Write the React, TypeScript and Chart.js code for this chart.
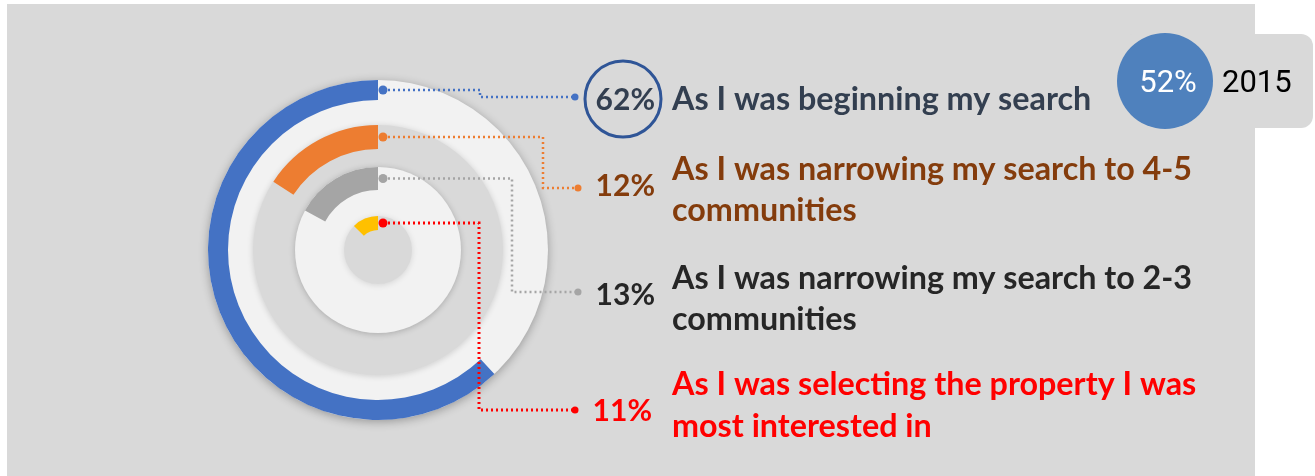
import React, { useEffect, useRef } from "react";
import { Chart, registerables } from "chart.js";

Chart.register(...registerables);

// ---- data ----
const categories = [
  "As I was beginning my search",
  "As I was narrowing my search to 4-5 communities",
  "As I was narrowing my search to 2-3 communities",
  "As I was selecting the property I was most interested in",
];
const labelLines = [
  ["As I was beginning my search"],
  ["As I was narrowing my search to 4-5", "communities"],
  ["As I was narrowing my search to 2-3", "communities"],
  ["As I was selecting the property I was", "most interested in"],
];
const values = [62, 12, 13, 11];
// full-circle scale that each ring's arc was drawn against in the original
const ringScale = [100, 76, 76, 88];
const badgeValue = "52%";
const badgeYear = "2015";

// ---- style ----
const arcColors = ["#4472c4", "#ed7d31", "#a5a5a5", "#ffc000"];
const lineColors = ["#4472c4", "#ed7d31", "#a5a5a5", "#ff0000"];
const textColors = ["#333f50", "#843c0c", "#262626", "#ff0000"];
const arcWeights = [20, 24, 23, 14];
const gapWeights = [25, 18, 26];
const elbowX = [480, 543, 512, 479];
const endX = [575, 578, 578, 575];
const endY = [97, 188, 292, 410];
const pctRight = [655, 655, 655, 652];
const pctBaseline = [110, 196, 305, 421];
const labelX = 672;
const labelBaselines = [[110], [180, 221], [289, 330], [395, 437]];
const PANEL = "#d9d9d9";
const LIGHT = "#f2f2f2";
const LABEL_FONT = "bold 32.3px Lato";
const PCT_FONT = "bold 30px Lato";

const decor = {
  id: "decor",
  beforeDraw(chart: any) {
    const ctx = chart.ctx as CanvasRenderingContext2D;
    ctx.save();
    ctx.fillStyle = "#ffffff";
    ctx.fillRect(0, 0, chart.width, chart.height);
    ctx.fillStyle = PANEL;
    ctx.fillRect(7, 4, 1248, chart.height - 4);
    // badge
    ctx.beginPath();
    (ctx as any).roundRect(1120, 34, 193, 94, 12);
    ctx.fill();
    ctx.fillStyle = "#4f81bd";
    ctx.beginPath();
    ctx.arc(1165, 81, 48, 0, Math.PI * 2);
    ctx.fill();
    ctx.font = "31px Roboto";
    ctx.textBaseline = "alphabetic";
    ctx.textAlign = "center";
    ctx.fillStyle = "#ffffff";
    ctx.fillText(badgeValue, 1168, 92);
    ctx.textAlign = "left";
    ctx.fillStyle = "#000000";
    ctx.fillText(badgeYear, 1222, 92);
    ctx.restore();
  },
  beforeDatasetsDraw(chart: any) {
    const ctx = chart.ctx as CanvasRenderingContext2D;
    const el0 = chart.getDatasetMeta(0).data[1];
    const cx = el0.x, cy = el0.y;
    const radii = [0, 2, 4, 6].map((i) => chart.getDatasetMeta(i).data[1].outerRadius);
    const fills = [LIGHT, PANEL, LIGHT, PANEL];
    const shadows = ["rgba(0,0,0,0.30)", "rgba(0,0,0,0.16)", "rgba(0,0,0,0.22)", "rgba(0,0,0,0.12)"];
    radii.forEach((r: number, k: number) => {
      ctx.save();
      ctx.shadowColor = shadows[k];
      ctx.shadowBlur = k === 0 ? 10 : 6;
      ctx.shadowOffsetY = k === 0 ? 2 : 1;
      ctx.fillStyle = fills[k];
      ctx.beginPath();
      ctx.arc(cx, cy, r, 0, Math.PI * 2);
      ctx.fill();
      ctx.restore();
    });
  },
  afterDatasetsDraw(chart: any) {
    const ctx = chart.ctx as CanvasRenderingContext2D;
    values.forEach((v, i) => {
      const el = chart.getDatasetMeta(i * 2).data[1];
      const midR = (el.outerRadius + el.innerRadius) / 2;
      const sx = el.x + 5;
      const sy = el.y - midR;
      ctx.save();
      ctx.strokeStyle = lineColors[i];
      ctx.lineWidth = i === 3 ? 3 : 2.5;
      ctx.setLineDash([2, 3]);
      ctx.beginPath();
      ctx.moveTo(sx, sy);
      ctx.lineTo(elbowX[i], sy);
      ctx.lineTo(elbowX[i], endY[i]);
      ctx.lineTo(endX[i], endY[i]);
      ctx.stroke();
      ctx.setLineDash([]);
      ctx.fillStyle = lineColors[i];
      ctx.beginPath();
      ctx.arc(sx, sy, 4.5, 0, Math.PI * 2);
      ctx.fill();
      ctx.beginPath();
      ctx.arc(endX[i], endY[i], 3.5, 0, Math.PI * 2);
      ctx.fill();
      // texts
      ctx.textBaseline = "alphabetic";
      ctx.fillStyle = textColors[i];
      ctx.font = PCT_FONT;
      ctx.textAlign = "right";
      ctx.fillText(v + "%", pctRight[i], pctBaseline[i]);
      ctx.font = LABEL_FONT;
      ctx.textAlign = "left";
      labelLines[i].forEach((line, j) => {
        ctx.fillText(line, labelX, labelBaselines[i][j]);
      });
      ctx.restore();
    });
    // circle around the first percentage
    ctx.save();
    ctx.strokeStyle = "#2f5597";
    ctx.lineWidth = 3;
    ctx.beginPath();
    ctx.arc(623, 99, 38, 0, Math.PI * 2);
    ctx.stroke();
    ctx.restore();
  },
};

export default function App() {
  const ref = useRef<HTMLCanvasElement | null>(null);
  useEffect(() => {
    if (!ref.current) return;
    const datasets: any[] = [];
    values.forEach((v, i) => {
      datasets.push({
        label: categories[i],
        data: [ringScale[i] - v, v],
        backgroundColor: ["rgba(0,0,0,0)", arcColors[i]],
        borderWidth: 0,
        weight: arcWeights[i],
      });
      if (i < gapWeights.length) {
        datasets.push({
          label: "gap" + i,
          data: [1],
          backgroundColor: ["rgba(0,0,0,0)"],
          borderWidth: 0,
          weight: gapWeights[i],
        });
      }
    });
    const chart = new Chart(ref.current, {
      type: "doughnut",
      data: { labels: ["rest", "value"], datasets },
      options: {
        animation: false,
        responsive: false,
        cutout: 20,
        rotation: 0,
        circumference: 360,
        layout: { padding: { left: 208, right: 767, top: 80, bottom: 56 } },
        plugins: { legend: { display: false }, tooltip: { enabled: false } },
        events: [],
      } as any,
      plugins: [decor],
    });
    return () => chart.destroy();
  }, []);
  return (
    <div style={{ position: "fixed", left: 0, top: 0, width: 1315, height: 476 }}>
      <canvas ref={ref} width={1315} height={476} />
    </div>
  );
}
